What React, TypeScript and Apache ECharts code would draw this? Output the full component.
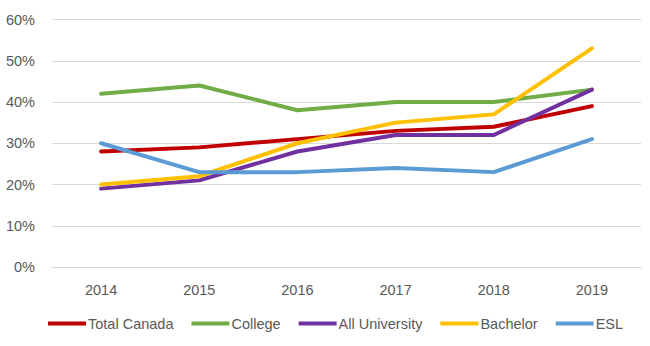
import React, { useEffect, useRef } from "react";
import * as echarts from "echarts";

const years = ["2014", "2015", "2016", "2017", "2018", "2019"];
const totalCanada = [28, 29, 31, 33, 34, 39];
const college = [42, 44, 38, 40, 40, 43];
const allUniversity = [19, 21, 28, 32, 32, 43];
const bachelor = [20, 22, 30, 35, 37, 53];
const esl = [30, 23, 23, 24, 23, 31];

const seriesNames = ["Total Canada", "College", "All University", "Bachelor", "ESL"];
const seriesData = [totalCanada, college, allUniversity, bachelor, esl];
const seriesColors = ["#C00000", "#70AD47", "#7030A0", "#FFC000", "#5B9BD5"];

const FONT = "'Liberation Sans', Arial, sans-serif";

export default function App() {
  const ref = useRef<HTMLDivElement>(null);
  useEffect(() => {
    document.body.style.margin = "0";
    if (!ref.current) return;
    const chart = echarts.init(ref.current, null, { renderer: "svg" });
    chart.setOption({
      animation: false,
      backgroundColor: "#ffffff",
      textStyle: { fontFamily: FONT },
      grid: { left: 52, right: 9, top: 19.5, bottom: 79, containLabel: false },
      legend: {
        bottom: 10,
        left: 332 - 289,
        itemWidth: 38,
        itemHeight: 4,
        itemGap: 18,
        icon: "rect",
        textStyle: { color: "#595959", fontSize: 14.5, fontFamily: FONT, padding: [0, 0, 0, -3] },
        data: seriesNames,
      },
      xAxis: {
        type: "category",
        data: years,
        boundaryGap: true,
        axisLine: { show: true, lineStyle: { color: "#D9D9D9", width: 1 } },
        axisTick: { show: false },
        axisLabel: { color: "#595959", fontSize: 14.5, margin: 15, fontFamily: FONT },
      },
      yAxis: {
        type: "value",
        min: 0,
        max: 60,
        interval: 10,
        axisLine: { show: false },
        axisTick: { show: false },
        splitLine: { lineStyle: { color: "#D9D9D9", width: 1 } },
        axisLabel: {
          color: "#595959",
          fontSize: 14.5,
          margin: 17,
          fontFamily: FONT,
          formatter: (v: number) => v + "%",
        },
      },
      series: seriesNames.map((name, i) => ({
        name,
        type: "line",
        data: seriesData[i],
        symbol: "none",
        lineStyle: { width: 4, color: seriesColors[i], cap: "round", join: "round" },
        itemStyle: { color: seriesColors[i] },
      })),
    });
    return () => chart.dispose();
  }, []);
  return <div ref={ref} style={{ width: 650, height: 346 }} />;
}
